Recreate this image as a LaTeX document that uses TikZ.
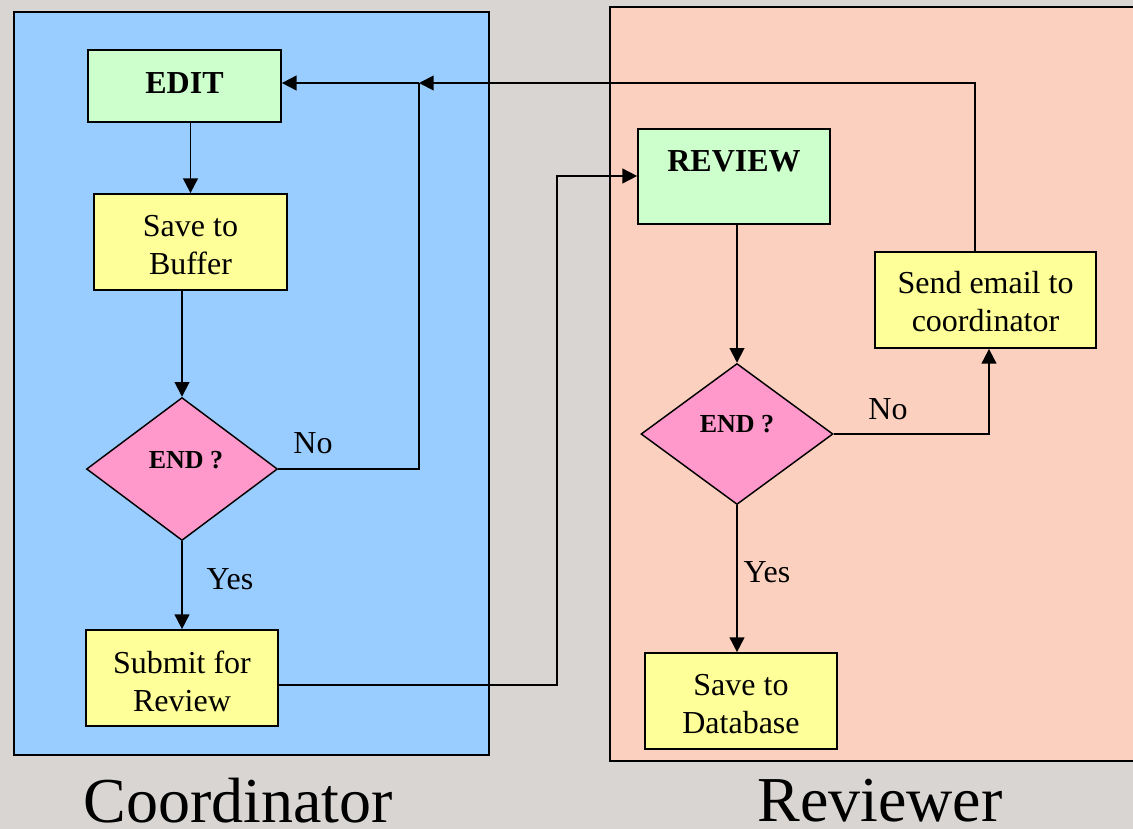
\documentclass[tikz,border=0pt]{standalone}
\usepackage{fontspec}
\setmainfont{Liberation Serif}
\usetikzlibrary{shapes.geometric,arrows.meta}
\definecolor{bggrey}{RGB}{216,213,210}
\definecolor{panelblue}{RGB}{153,204,255}
\definecolor{panelpeach}{RGB}{252,208,190}
\definecolor{boxgreen}{RGB}{204,255,204}
\definecolor{boxyellow}{RGB}{255,255,153}
\definecolor{boxpink}{RGB}{255,153,204}
\tikzset{
  panel/.style={draw=black, line width=1.4pt},
  procbox/.style={draw=black, line width=1.3pt, fill=boxyellow, inner sep=0pt,
    minimum width=144pt, minimum height=72pt},
  boxtext/.style={align=center, inner sep=0pt, yshift=-2.5pt, font=\fontsize{24}{28.5}\selectfont},
  headbox/.style={draw=black, line width=1.3pt, fill=boxgreen, align=center, inner sep=0pt,
    minimum width=144.75pt, minimum height=54pt, font=\fontsize{24}{28.5}\selectfont\bfseries},
  decision/.style={diamond, draw=black, line width=1.1pt, fill=boxpink, inner sep=0pt,
    font=\fontsize{19.5}{22}\selectfont\bfseries},
  conn/.style={draw=black, line width=1.4pt},
  arr/.style={conn, -{Triangle[length=11pt,width=11pt]}},
  lbl/.style={font=\fontsize{24}{28}\selectfont, inner sep=0pt},
  lane/.style={font=\fontsize{48}{52}\selectfont, inner sep=0pt}
}
\begin{document}
\begin{tikzpicture}[x=0.75pt,y=-0.75pt]
\useasboundingbox (0,0) rectangle (1133,829);
\clip (0,0) rectangle (1133,829);
\fill[bggrey] (0,0) rectangle (1133,829);
% panels
\filldraw[panel, fill=panelblue] (14,12) rectangle (489,755);
\filldraw[panel, fill=panelpeach] (610,7) rectangle (1145,761);
% coordinator nodes
\node[headbox] (edit) at (184.5,86) {\raisebox{4pt}{EDIT}};
\node[procbox, minimum width=144.75pt, label={[boxtext]center:Save to\\Buffer}] (buffer) at (190.5,242) {};
\node[decision, minimum width=143.25pt, minimum height=107.25pt] (dc) at (182,469) {\raisebox{13.5pt}{\hspace{6pt}END ?}};
\node[procbox, label={[boxtext]center:Submit for\\Review}] (submit) at (182,678) {};
% reviewer nodes
\node[headbox, minimum width=144pt, minimum height=71.25pt,
      label={[anchor=north, font=\fontsize{24}{28.5}\selectfont\bfseries, yshift=-13.5pt]north:REVIEW}] (review) at (734,176.5) {};
\node[decision, minimum width=144pt, minimum height=105.75pt] (dr) at (737,434) {\raisebox{15pt}{END ?}};
\node[procbox, minimum width=165.75pt, label={[boxtext, yshift=1pt]center:Send email to\\coordinator}] (send) at (985.5,300) {};
\node[procbox, label={[boxtext]center:Save to\\Database}] (db) at (741,701) {};
% junction coordinates
\coordinate (jc) at (419,83);
\coordinate (jn) at (419,469);
\coordinate (js) at (975,83);
\coordinate (jr1) at (557,685);
\coordinate (jr2) at (557,176);
\coordinate (jd) at (989,434);
% connectors
\draw[arr] (190.5,122) -- (buffer.north);
\draw[arr] (182,290) -- (dc.north);
\draw[arr] (dc.south) -- (submit.north);
\draw[conn] (dc.east) -- (jn) -- (jc);
\draw[arr] (jc) -- (edit.east |- jc);
\draw[arr] (send.north -| js) -- (js) -- (jc);
\draw[arr] (submit.east |- jr1) -- (jr1) -- (jr2) -- (review.west |- jr2);
\draw[arr] (review.south -| dr.north) -- (dr.north);
\draw[arr] (dr.south) -- (db.north -| dr.south);
\draw[arr] (dr.east) -- (jd) -- (send.south -| jd);
% edge labels
\node[lbl] (noc) at (313,443) {No};
\node[lbl] (yesc) at (230,579) {Yes};
\node[lbl] (nor) at (888,409) {No};
\node[lbl] (yesr) at (767,572) {Yes};
% lane titles
\node[lane] (coord) at (238,801) {Coordinator};
\node[lane] (revw) at (880,801) {Reviewer};
\end{tikzpicture}
\end{document}
